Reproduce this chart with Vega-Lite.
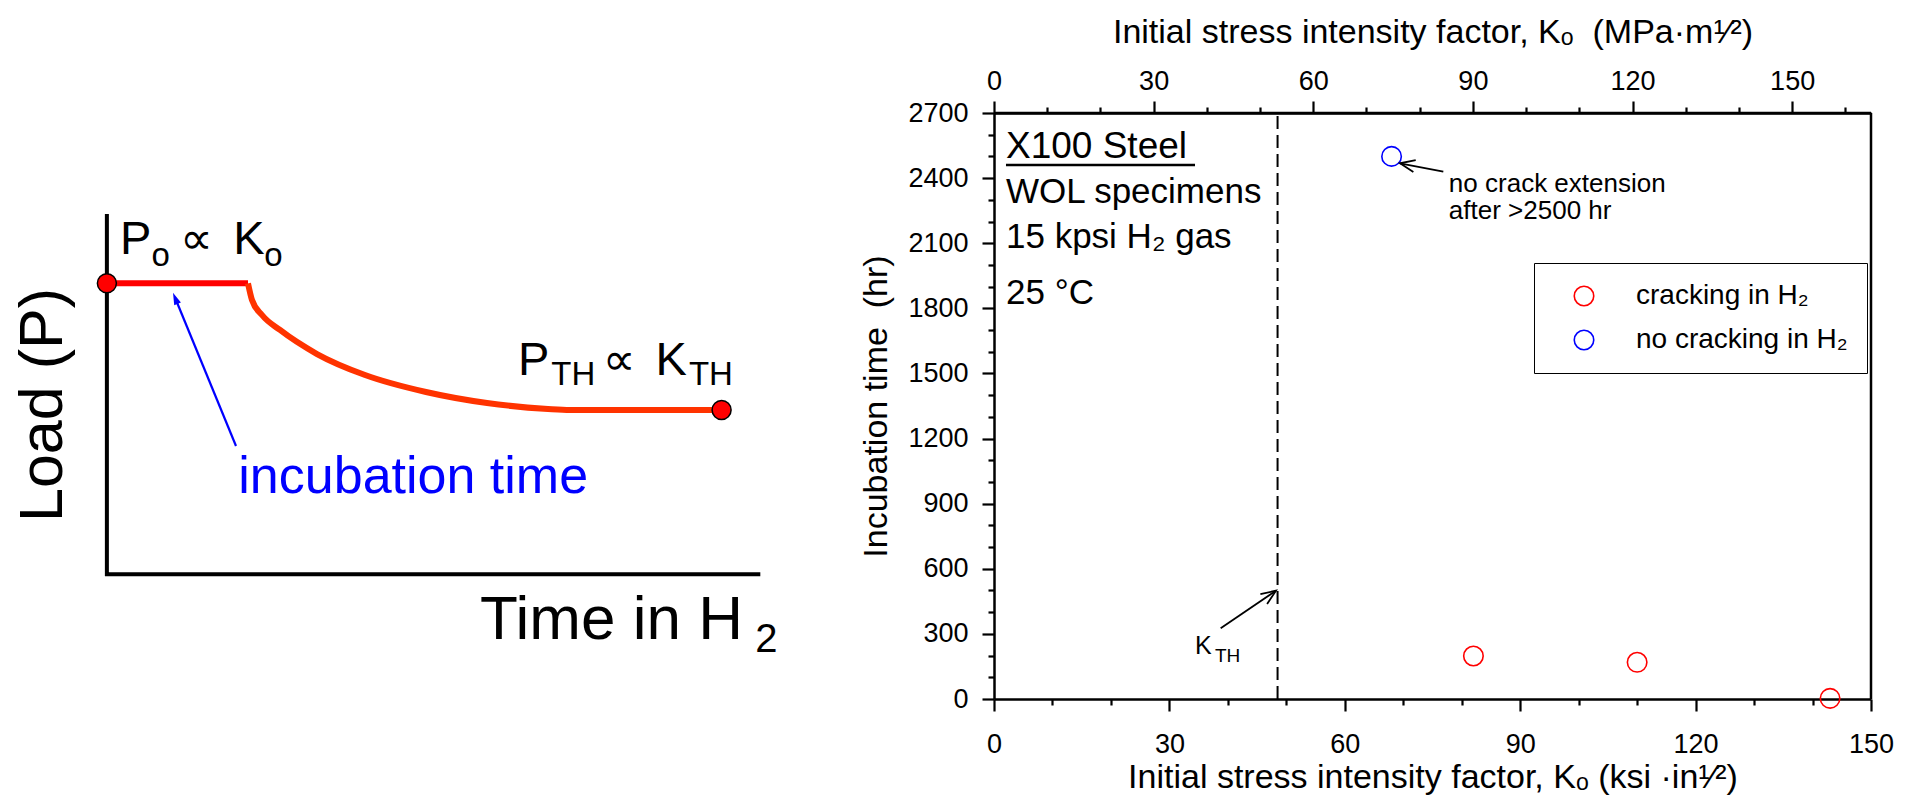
{
  "$schema": "https://vega.github.io/schema/vega-lite/v6.json",
  "autosize": {"type": "none"},
  "padding": {"left": 0, "top": 113, "right": 1911, "bottom": 693},
  "background": "white",
  "config": {
    "view": {"stroke": null},
    "font": "Liberation Sans",
    "axis": {"labelColor": "black", "titleColor": "black", "domainColor": "black", "tickColor": "black", "grid": false, "titleFontWeight": "normal", "labelFlush": false, "labelOverlap": false}
  },
  "bounds": "flush",
  "spacing": 194,
  "resolve": {"scale": {"color": "independent"}, "legend": {"color": "independent"}},
  "datasets": {
    "diagramAxes": [
      {"t": 13.36, "p": 82.42, "seq": 0},
      {"t": 13.36, "p": 21.28, "seq": 1},
      {"t": 94.79, "p": 21.28, "seq": 2}
    ],
    "loadHistory": [
      {"stage": "hold", "seq": 0, "t": 13.36, "p": 70.94},
      {"stage": "hold", "seq": 1, "t": 31.0, "p": 70.94},
      {"stage": "relaxation", "seq": 0, "t": 31.0, "p": 70.94},
      {"stage": "relaxation", "seq": 1, "t": 31.5, "p": 68.09},
      {"stage": "relaxation", "seq": 2, "t": 32.75, "p": 65.53},
      {"stage": "relaxation", "seq": 3, "t": 35.0, "p": 62.97},
      {"stage": "relaxation", "seq": 4, "t": 39.63, "p": 58.87},
      {"stage": "relaxation", "seq": 5, "t": 45.63, "p": 55.29},
      {"stage": "relaxation", "seq": 6, "t": 53.25, "p": 52.39},
      {"stage": "relaxation", "seq": 7, "t": 60.88, "p": 50.51},
      {"stage": "relaxation", "seq": 8, "t": 68.5, "p": 49.49},
      {"stage": "relaxation", "seq": 9, "t": 71.25, "p": 49.32},
      {"stage": "relaxation", "seq": 10, "t": 90.2, "p": 49.32}
    ],
    "loadStates": [
      {"state": "initial", "t": 13.36, "p": 70.94},
      {"state": "threshold", "t": 90.2, "p": 49.32}
    ],
    "incubationPointer": [
      {"seq": 0, "t": 29.5, "p": 43.17},
      {"seq": 1, "t": 21.91, "p": 68.38}
    ],
    "diagramText": [
      {"role": "axis", "t": 60.0, "p": 10.19, "text": "Time in H"},
      {"role": "axisSub", "t": 94.4, "p": 8.02, "text": "2"},
      {"role": "state", "t": 15.0, "p": 75.94, "text": "P"},
      {"role": "relation", "t": 22.5, "p": 75.94, "text": "∝"},
      {"role": "state", "t": 29.15, "p": 75.94, "text": "K"},
      {"role": "stateSub", "t": 18.93, "p": 73.89, "text": "o"},
      {"role": "stateSub", "t": 33.04, "p": 73.89, "text": "o"},
      {"role": "state", "t": 64.74, "p": 55.29, "text": "P"},
      {"role": "relation", "t": 75.33, "p": 55.29, "text": "∝"},
      {"role": "state", "t": 81.95, "p": 55.29, "text": "K"},
      {"role": "stateSub", "t": 68.91, "p": 53.58, "text": "TH"},
      {"role": "stateSub", "t": 86.11, "p": 53.58, "text": "TH"}
    ],
    "specimens": [
      {"ksi": 82, "hr": 198, "status": "cracking in H₂"},
      {"ksi": 110, "hr": 169, "status": "cracking in H₂"},
      {"ksi": 143, "hr": 3, "status": "cracking in H₂"},
      {"ksi": 68, "hr": 2500, "status": "no cracking in H₂"}
    ],
    "verticals": [
      {"line": "threshold", "ksi": 48.5, "hr": 0, "hrTo": 2700},
      {"line": "frame", "ksi": 150, "hr": 0, "hrTo": 2700}
    ],
    "pointers": [
      {"path": "kthShaft", "seq": 0, "ksi": 38.77, "hr": 325.7},
      {"path": "kthShaft", "seq": 1, "ksi": 48.23, "hr": 499},
      {"path": "kthHead", "seq": 0, "ksi": 45.56, "hr": 483.3},
      {"path": "kthHead", "seq": 1, "ksi": 48.23, "hr": 499},
      {"path": "kthHead", "seq": 2, "ksi": 46.71, "hr": 437.7},
      {"path": "noteShaft", "seq": 0, "ksi": 76.85, "hr": 2429.5},
      {"path": "noteShaft", "seq": 1, "ksi": 69.44, "hr": 2468.2},
      {"path": "noteHead", "seq": 0, "ksi": 71.73, "hr": 2428.2},
      {"path": "noteHead", "seq": 1, "ksi": 69.44, "hr": 2468.2},
      {"path": "noteHead", "seq": 2, "ksi": 72.13, "hr": 2482.5}
    ],
    "notes": [
      {"group": "heading", "ksi": 2.05, "hr": 2491, "text": "X100 Steel"},
      {"group": "body", "ksi": 2.05, "hr": 2284, "text": "WOL specimens"},
      {"group": "body", "ksi": 2.05, "hr": 2077, "text": "15 kpsi H₂ gas"},
      {"group": "body", "ksi": 2.05, "hr": 1820, "text": "25 °C"},
      {"group": "note", "ksi": 77.8, "hr": 2337, "text": "no crack extension"},
      {"group": "note", "ksi": 77.8, "hr": 2210, "text": "after >2500 hr"},
      {"group": "kth", "ksi": 34.36, "hr": 206, "text": "K"},
      {"group": "kthSub", "ksi": 37.8, "hr": 172, "text": "TH"}
    ],
    "headingUnderline": [
      {"ksi": 2.05, "ksiTo": 34.38, "hr": 2460}
    ],
    "topFrame": [
      {"mpaFrom": 0, "mpaTo": 164.82, "hr": 2700}
    ]
  },
  "hconcat": [
    {
      "width": 800,
      "height": 586,
      "encoding": {
        "x": {"field": "t", "type": "quantitative", "scale": {"domain": [0, 100], "nice": false}, "axis": null},
        "y": {"field": "p", "type": "quantitative", "scale": {"domain": [0, 100], "nice": false}, "axis": null}
      },
      "layer": [
        {
          "data": {"name": "diagramAxes"},
          "mark": {"type": "line", "color": "black", "strokeWidth": 4, "strokeCap": "square"},
          "encoding": {"order": {"field": "seq"}}
        },
        {
          "data": {"name": "loadHistory"},
          "transform": [{"filter": "datum.stage === 'hold'"}],
          "mark": {"type": "line", "color": "#ff0000", "strokeWidth": 6},
          "encoding": {"order": {"field": "seq"}}
        },
        {
          "data": {"name": "loadHistory"},
          "transform": [{"filter": "datum.stage === 'relaxation'"}],
          "mark": {"type": "line", "color": "#ff3300", "strokeWidth": 6, "interpolate": "monotone"},
          "encoding": {"order": {"field": "seq"}}
        },
        {
          "data": {"name": "loadStates"},
          "mark": {"type": "point", "shape": "circle", "filled": true, "fill": "#ff0000", "stroke": "black", "strokeWidth": 1.5, "size": 361, "opacity": 1},
          "encoding": {}
        },
        {
          "data": {"name": "incubationPointer"},
          "mark": {"type": "line", "color": "#0000ff", "strokeWidth": 2.2},
          "encoding": {"order": {"field": "seq"}}
        },
        {
          "data": {"name": "incubationPointer"},
          "transform": [{"filter": "datum.seq === 1"}],
          "mark": {"type": "point", "shape": "M0,-1L0.6,1L-0.6,1Z", "filled": true, "color": "#0000ff", "size": 144, "angle": 337.7, "opacity": 1},
          "encoding": {}
        },
        {
          "data": {"values": [{"t": 7.75, "p": 50.17, "text": "Load (P)"}]},
          "mark": {"type": "text", "angle": 270, "align": "center", "baseline": "alphabetic", "fontSize": 61, "color": "black"},
          "encoding": {"text": {"field": "text"}}
        },
        {
          "data": {"values": [{"t": 29.79, "p": 35.1, "text": "incubation time"}]},
          "mark": {"type": "text", "align": "left", "baseline": "alphabetic", "fontSize": 52, "color": "#0000ff"},
          "encoding": {"text": {"field": "text"}}
        },
        {
          "data": {"name": "diagramText"},
          "transform": [{"filter": "datum.role === 'axis'"}],
          "mark": {"type": "text", "align": "left", "baseline": "alphabetic", "fontSize": 62, "color": "black"},
          "encoding": {"text": {"field": "text"}}
        },
        {
          "data": {"name": "diagramText"},
          "transform": [{"filter": "datum.role === 'axisSub'"}],
          "mark": {"type": "text", "align": "left", "baseline": "alphabetic", "fontSize": 40, "color": "black"},
          "encoding": {"text": {"field": "text"}}
        },
        {
          "data": {"name": "diagramText"},
          "transform": [{"filter": "datum.role === 'state'"}],
          "mark": {"type": "text", "align": "left", "baseline": "alphabetic", "fontSize": 47, "color": "black"},
          "encoding": {"text": {"field": "text"}}
        },
        {
          "data": {"name": "diagramText"},
          "transform": [{"filter": "datum.role === 'relation'"}],
          "mark": {"type": "text", "align": "left", "baseline": "alphabetic", "font": "DejaVu Sans", "fontSize": 46, "color": "black"},
          "encoding": {"text": {"field": "text"}}
        },
        {
          "data": {"name": "diagramText"},
          "transform": [{"filter": "datum.role === 'stateSub'"}],
          "mark": {"type": "text", "align": "left", "baseline": "alphabetic", "fontSize": 33, "color": "black"},
          "encoding": {"text": {"field": "text"}}
        }
      ]
    },
    {
      "width": 877,
      "height": 586,
      "resolve": {"scale": {"x": "independent"}, "axis": {"x": "independent"}},
      "layer": [
        {
          "encoding": {
            "x": {
              "field": "ksi", "type": "quantitative",
              "scale": {"domain": [0, 150], "nice": false},
              "axis": {
                "orient": "bottom",
                "values": [0, 10, 20, 30, 40, 50, 60, 70, 80, 90, 100, 110, 120, 130, 140, 150],
                "format": "d",
                "labelExpr": "datum.value % 30 === 0 ? datum.label : ''",
                "labelOverlap": false,
                "labelFlush": false,
                "tickSize": {"condition": {"test": "datum.value % 30 === 0", "value": 12}, "value": 6},
                "tickWidth": 2.2,
                "domainWidth": 2.5,
                "labelFontSize": 27,
                "labelPadding": 20,
                "title": "Initial stress intensity factor, Kₒ (ksi ·in¹⁄²)",
                "titleFontSize": 34,
                "titlePadding": 3
              }
            },
            "y": {
              "field": "hr", "type": "quantitative",
              "scale": {"domain": [0, 2700], "nice": false},
              "axis": {
                "orient": "left",
                "values": [0, 100, 200, 300, 400, 500, 600, 700, 800, 900, 1000, 1100, 1200, 1300, 1400, 1500, 1600, 1700, 1800, 1900, 2000, 2100, 2200, 2300, 2400, 2500, 2600, 2700],
                "format": "d",
                "labelExpr": "datum.value % 300 === 0 ? datum.label : ''",
                "labelOverlap": false,
                "labelFlush": false,
                "tickSize": {"condition": {"test": "datum.value % 300 === 0", "value": 12}, "value": 6},
                "tickWidth": 2.2,
                "domainWidth": 2.5,
                "labelFontSize": 27,
                "labelPadding": 14,
                "title": "Incubation time\u00a0 (hr)",
                "titleFontSize": 34,
                "titlePadding": 14
              }
            }
          },
          "layer": [
            {
              "data": {"name": "specimens"},
              "mark": {"type": "point", "shape": "circle", "filled": false, "size": 380, "strokeWidth": 1.6, "opacity": 1},
              "encoding": {
                "color": {
                  "field": "status", "type": "nominal",
                  "scale": {"domain": ["cracking in H₂", "no cracking in H₂"], "range": ["#ff0000", "#0000ff"]},
                  "legend": {
                    "orient": "none",
                    "legendX": 540,
                    "legendY": 150,
                    "title": null,
                    "padding": 19,
                    "strokeColor": "black",
                    "fillColor": "white",
                    "labelFontSize": 28,
                    "labelColor": "black",
                    "labelLimit": 400,
                    "symbolType": "circle",
                    "symbolSize": 380,
                    "symbolStrokeWidth": 1.6,
                    "symbolOffset": 17,
                    "labelOffset": 38,
                    "rowPadding": 16
                  }
                }
              }
            },
            {
              "data": {"name": "verticals"},
              "transform": [{"filter": "datum.line === 'threshold'"}],
              "mark": {"type": "rule", "color": "black", "strokeWidth": 2, "strokeDash": [13, 6]},
              "encoding": {"y2": {"field": "hrTo"}}
            },
            {
              "data": {"name": "verticals"},
              "transform": [{"filter": "datum.line === 'frame'"}],
              "mark": {"type": "rule", "color": "black", "strokeWidth": 2.5},
              "encoding": {"y2": {"field": "hrTo"}}
            },
            {
              "data": {"name": "pointers"},
              "mark": {"type": "line", "color": "black", "strokeWidth": 1.8},
              "encoding": {"detail": {"field": "path"}, "order": {"field": "seq"}}
            },
            {
              "data": {"name": "headingUnderline"},
              "mark": {"type": "rule", "color": "black", "strokeWidth": 2.5},
              "encoding": {"x2": {"field": "ksiTo"}}
            },
            {
              "data": {"name": "notes"},
              "transform": [{"filter": "datum.group === 'heading'"}],
              "mark": {"type": "text", "align": "left", "baseline": "alphabetic", "fontSize": 37, "color": "black"},
              "encoding": {"text": {"field": "text"}}
            },
            {
              "data": {"name": "notes"},
              "transform": [{"filter": "datum.group === 'body'"}],
              "mark": {"type": "text", "align": "left", "baseline": "alphabetic", "fontSize": 35, "color": "black"},
              "encoding": {"text": {"field": "text"}}
            },
            {
              "data": {"name": "notes"},
              "transform": [{"filter": "datum.group === 'note'"}],
              "mark": {"type": "text", "align": "left", "baseline": "alphabetic", "fontSize": 26, "color": "black"},
              "encoding": {"text": {"field": "text"}}
            },
            {
              "data": {"name": "notes"},
              "transform": [{"filter": "datum.group === 'kth'"}],
              "mark": {"type": "text", "align": "left", "baseline": "alphabetic", "fontSize": 25, "color": "black"},
              "encoding": {"text": {"field": "text"}}
            },
            {
              "data": {"name": "notes"},
              "transform": [{"filter": "datum.group === 'kthSub'"}],
              "mark": {"type": "text", "align": "left", "baseline": "alphabetic", "fontSize": 19, "color": "black"},
              "encoding": {"text": {"field": "text"}}
            }
          ]
        },
        {
          "data": {"name": "topFrame"},
          "mark": {"type": "rule", "color": "black", "strokeWidth": 2.5},
          "encoding": {
            "x": {
              "field": "mpaFrom", "type": "quantitative",
              "scale": {"domain": [0, 164.82], "nice": false},
              "axis": {
                "orient": "top",
                "values": [0, 10, 20, 30, 40, 50, 60, 70, 80, 90, 100, 110, 120, 130, 140, 150, 160],
                "format": "d",
                "labelExpr": "datum.value % 30 === 0 ? datum.label : ''",
                "labelOverlap": false,
                "labelFlush": false,
                "tickSize": {"condition": {"test": "datum.value % 30 === 0", "value": 12}, "value": 6},
                "tickWidth": 2.2,
                "domainWidth": 2.5,
                "labelFontSize": 27,
                "labelPadding": 6,
                "title": "Initial stress intensity factor, Kₒ\u00a0 (MPa·m¹⁄²)",
                "titleFontSize": 34,
                "titlePadding": 18
              }
            },
            "x2": {"field": "mpaTo"},
            "y": {
              "field": "hr", "type": "quantitative",
              "scale": {"domain": [0, 2700], "nice": false},
              "axis": {
                "orient": "left",
                "values": [0, 100, 200, 300, 400, 500, 600, 700, 800, 900, 1000, 1100, 1200, 1300, 1400, 1500, 1600, 1700, 1800, 1900, 2000, 2100, 2200, 2300, 2400, 2500, 2600, 2700],
                "format": "d",
                "labelExpr": "datum.value % 300 === 0 ? datum.label : ''",
                "labelOverlap": false,
                "labelFlush": false,
                "tickSize": {"condition": {"test": "datum.value % 300 === 0", "value": 12}, "value": 6},
                "tickWidth": 2.2,
                "domainWidth": 2.5,
                "labelFontSize": 27,
                "labelPadding": 14,
                "title": "Incubation time\u00a0 (hr)",
                "titleFontSize": 34,
                "titlePadding": 14
              }
            }
          }
        }
      ]
    }
  ]
}
